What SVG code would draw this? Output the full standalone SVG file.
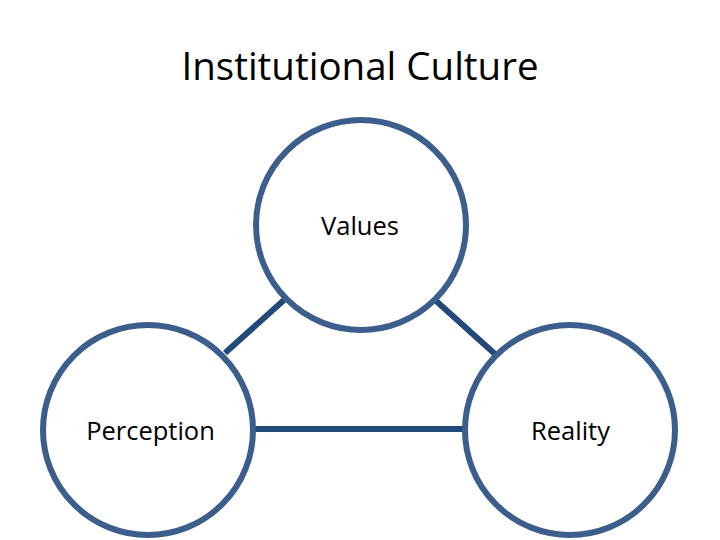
<svg xmlns="http://www.w3.org/2000/svg" width="720" height="540" viewBox="0 0 720 540">
<style>
.node{fill:#fff;stroke:#3b5e8c;stroke-width:6}
.lbl{font-family:"Open Sans","Liberation Sans",sans-serif;font-size:25.5px;fill:#000;text-anchor:middle}
.conn{stroke:#23497a;stroke-width:6;fill:none}
</style>
<rect width="720" height="540" fill="#fff"/>
<text x="360" y="80" style="font-family:'Open Sans','Liberation Sans',sans-serif;font-size:38.5px;fill:#000;text-anchor:middle">Institutional Culture</text>
<g id="connectors">
<line class="conn" x1="284" y1="300" x2="225" y2="353"/>
<line class="conn" x1="435" y1="300" x2="495" y2="354"/>
<line class="conn" x1="255" y1="429" x2="465" y2="429"/>
</g>
<g id="values"><circle class="node" cx="361" cy="225" r="105"/><text class="lbl" x="360" y="235">Values</text></g>
<g id="perception"><circle class="node" cx="148" cy="430" r="105"/><text class="lbl" x="150.5" y="440">Perception</text></g>
<g id="reality"><circle class="node" cx="570" cy="430" r="105"/><text class="lbl" x="570.5" y="440">Reality</text></g>
</svg>
